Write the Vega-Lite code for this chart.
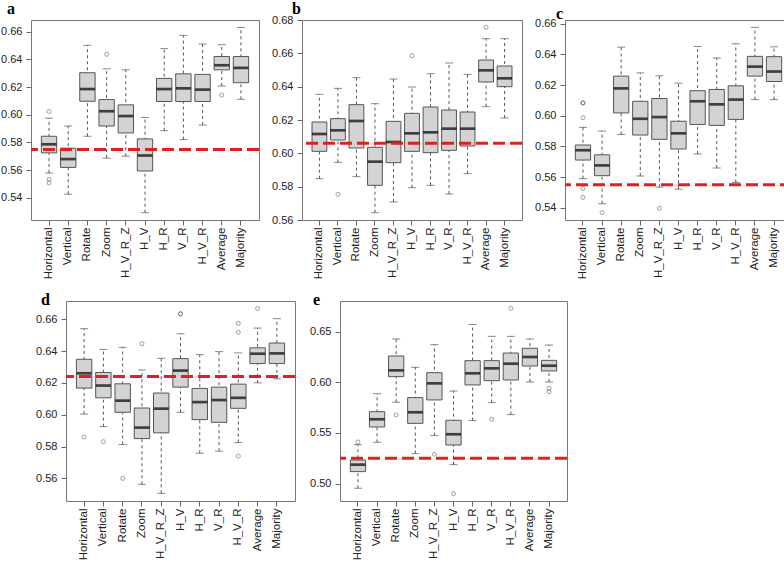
{
"$schema":"https://vega.github.io/schema/vega-lite/v6.json",
"padding":0,
"background":"white",
"config":{
 "view":{"stroke":"#777","strokeWidth":1},
 "axis":{"labelFont":"Liberation Sans","labelFontSize":11,"labelColor":"#222","tickColor":"#666","domain":false,"grid":false,"tickSize":5},
 "axisX":{"labelAngle":-90,"labelPadding":2,"labelFontSize":11.5},
 "axisY":{"labelPadding":4,"labelOverlap":false},
 "title":{"anchor":"start","frame":"group","baseline":"alphabetic","font":"Liberation Serif","fontSize":16,"fontWeight":"bold","color":"#000"}
},
"datasets":{
"boxes":[
{"panel":"a","cat":"Horizontal","lo":0.558,"q1":0.5725,"med":0.5787,"q3":0.5845,"hi":0.5976},
{"panel":"a","cat":"Vertical","lo":0.5426,"q1":0.562,"med":0.568,"q3":0.5759,"hi":0.5919},
{"panel":"a","cat":"Rotate","lo":0.5845,"q1":0.6098,"med":0.6186,"q3":0.6304,"hi":0.6502},
{"panel":"a","cat":"Zoom","lo":0.5687,"q1":0.5919,"med":0.6026,"q3":0.611,"hi":0.6332},
{"panel":"a","cat":"H_V_R_Z","lo":0.5701,"q1":0.5869,"med":0.5991,"q3":0.6072,"hi":0.6325},
{"panel":"a","cat":"H_V","lo":0.5293,"q1":0.5594,"med":0.5706,"q3":0.5826,"hi":0.5981},
{"panel":"a","cat":"H_R","lo":0.5885,"q1":0.6096,"med":0.6186,"q3":0.6263,"hi":0.6478},
{"panel":"a","cat":"V_R","lo":0.5821,"q1":0.6096,"med":0.6191,"q3":0.6296,"hi":0.6574},
{"panel":"a","cat":"H_V_R","lo":0.5926,"q1":0.6096,"med":0.6182,"q3":0.6292,"hi":0.6511},
{"panel":"a","cat":"Average","lo":0.6208,"q1":0.6325,"med":0.6358,"q3":0.6421,"hi":0.6507},
{"panel":"a","cat":"Majority","lo":0.6112,"q1":0.6232,"med":0.6339,"q3":0.6421,"hi":0.6631},
{"panel":"b","cat":"Horizontal","lo":0.5848,"q1":0.6012,"med":0.6116,"q3":0.6188,"hi":0.6354},
{"panel":"b","cat":"Vertical","lo":0.5946,"q1":0.608,"med":0.6138,"q3":0.6208,"hi":0.639},
{"panel":"b","cat":"Rotate","lo":0.586,"q1":0.6032,"med":0.6194,"q3":0.6292,"hi":0.6454},
{"panel":"b","cat":"Zoom","lo":0.5644,"q1":0.5808,"med":0.595,"q3":0.6036,"hi":0.6298},
{"panel":"b","cat":"H_V_R_Z","lo":0.5708,"q1":0.5944,"med":0.6068,"q3":0.6192,"hi":0.6446},
{"panel":"b","cat":"H_V","lo":0.5794,"q1":0.6012,"med":0.612,"q3":0.624,"hi":0.6398},
{"panel":"b","cat":"H_R","lo":0.5808,"q1":0.6004,"med":0.6126,"q3":0.6278,"hi":0.6478},
{"panel":"b","cat":"V_R","lo":0.5756,"q1":0.6018,"med":0.6148,"q3":0.626,"hi":0.6542},
{"panel":"b","cat":"H_V_R","lo":0.5878,"q1":0.6044,"med":0.6148,"q3":0.6248,"hi":0.6474},
{"panel":"b","cat":"Average","lo":0.628,"q1":0.6428,"med":0.6498,"q3":0.656,"hi":0.6688},
{"panel":"b","cat":"Majority","lo":0.6212,"q1":0.64,"med":0.645,"q3":0.6524,"hi":0.6688},
{"panel":"c","cat":"Horizontal","lo":0.559,"q1":0.5711,"med":0.5775,"q3":0.5809,"hi":0.5924},
{"panel":"c","cat":"Vertical","lo":0.5426,"q1":0.5609,"med":0.5676,"q3":0.5745,"hi":0.59},
{"panel":"c","cat":"Rotate","lo":0.5878,"q1":0.6018,"med":0.6178,"q3":0.6258,"hi":0.6447},
{"panel":"c","cat":"Zoom","lo":0.5607,"q1":0.5874,"med":0.598,"q3":0.6094,"hi":0.6279},
{"panel":"c","cat":"H_V_R_Z","lo":0.5534,"q1":0.5846,"med":0.5991,"q3":0.6112,"hi":0.626},
{"panel":"c","cat":"H_V","lo":0.5521,"q1":0.5783,"med":0.5885,"q3":0.5964,"hi":0.6212},
{"panel":"c","cat":"H_R","lo":0.575,"q1":0.5943,"med":0.6094,"q3":0.6163,"hi":0.6451},
{"panel":"c","cat":"V_R","lo":0.5659,"q1":0.5937,"med":0.6074,"q3":0.6171,"hi":0.6376},
{"panel":"c","cat":"H_V_R","lo":0.5565,"q1":0.5976,"med":0.6105,"q3":0.6195,"hi":0.6469},
{"panel":"c","cat":"Average","lo":0.6105,"q1":0.6258,"med":0.632,"q3":0.6387,"hi":0.6576},
{"panel":"c","cat":"Majority","lo":0.6105,"q1":0.6223,"med":0.6288,"q3":0.6385,"hi":0.6449},
{"panel":"d","cat":"Horizontal","lo":0.6004,"q1":0.6167,"med":0.626,"q3":0.6348,"hi":0.654},
{"panel":"d","cat":"Vertical","lo":0.5925,"q1":0.6106,"med":0.6183,"q3":0.6265,"hi":0.641},
{"panel":"d","cat":"Rotate","lo":0.5813,"q1":0.6015,"med":0.6088,"q3":0.6194,"hi":0.6423},
{"panel":"d","cat":"Zoom","lo":0.5563,"q1":0.585,"med":0.5919,"q3":0.6042,"hi":0.6281},
{"panel":"d","cat":"H_V_R_Z","lo":0.5506,"q1":0.5886,"med":0.6038,"q3":0.6136,"hi":0.6354},
{"panel":"d","cat":"H_V","lo":0.6015,"q1":0.6173,"med":0.6277,"q3":0.6352,"hi":0.6508},
{"panel":"d","cat":"H_R","lo":0.5758,"q1":0.5969,"med":0.6079,"q3":0.6165,"hi":0.6377},
{"panel":"d","cat":"V_R","lo":0.5771,"q1":0.5952,"med":0.6092,"q3":0.6173,"hi":0.6396},
{"panel":"d","cat":"H_V_R","lo":0.5825,"q1":0.604,"med":0.6106,"q3":0.6192,"hi":0.6388},
{"panel":"d","cat":"Average","lo":0.62,"q1":0.6321,"med":0.6383,"q3":0.642,"hi":0.6544},
{"panel":"d","cat":"Majority","lo":0.6225,"q1":0.6321,"med":0.6385,"q3":0.645,"hi":0.6603},
{"panel":"e","cat":"Horizontal","lo":0.4954,"q1":0.5118,"med":0.5187,"q3":0.5233,"hi":0.5385},
{"panel":"e","cat":"Vertical","lo":0.5408,"q1":0.5559,"med":0.5635,"q3":0.571,"hi":0.5888},
{"panel":"e","cat":"Rotate","lo":0.5803,"q1":0.6056,"med":0.6118,"q3":0.626,"hi":0.6428},
{"panel":"e","cat":"Zoom","lo":0.5296,"q1":0.5595,"med":0.5704,"q3":0.5849,"hi":0.6148},
{"panel":"e","cat":"H_V_R_Z","lo":0.5474,"q1":0.5826,"med":0.599,"q3":0.6095,"hi":0.6372},
{"panel":"e","cat":"H_V","lo":0.5187,"q1":0.5381,"med":0.5487,"q3":0.5625,"hi":0.5914},
{"panel":"e","cat":"H_R","lo":0.5622,"q1":0.5974,"med":0.6089,"q3":0.6214,"hi":0.6572},
{"panel":"e","cat":"V_R","lo":0.58,"q1":0.6016,"med":0.6138,"q3":0.6214,"hi":0.6454},
{"panel":"e","cat":"H_V_R","lo":0.5681,"q1":0.6023,"med":0.6184,"q3":0.6289,"hi":0.6454},
{"panel":"e","cat":"Average","lo":0.6003,"q1":0.6161,"med":0.625,"q3":0.6336,"hi":0.6428},
{"panel":"e","cat":"Majority","lo":0.6003,"q1":0.6112,"med":0.6164,"q3":0.6217,"hi":0.6368}
],
"outliers":[
{"panel":"a","cat":"Horizontal","v":0.6024},{"panel":"a","cat":"Horizontal","v":0.5534},{"panel":"a","cat":"Horizontal","v":0.5508},
{"panel":"a","cat":"Zoom","v":0.6437},{"panel":"a","cat":"Average","v":0.6143},
{"panel":"b","cat":"Vertical","v":0.5754},{"panel":"b","cat":"H_V","v":0.6586},{"panel":"b","cat":"Average","v":0.6756},
{"panel":"c","cat":"Horizontal","v":0.6085},{"panel":"c","cat":"Horizontal","v":0.6082},{"panel":"c","cat":"Horizontal","v":0.5987},{"panel":"c","cat":"Horizontal","v":0.5525},{"panel":"c","cat":"Horizontal","v":0.5467},
{"panel":"c","cat":"Vertical","v":0.5368},{"panel":"c","cat":"H_V_R_Z","v":0.5396},
{"panel":"d","cat":"Horizontal","v":0.586},{"panel":"d","cat":"Vertical","v":0.5831},{"panel":"d","cat":"Rotate","v":0.56},{"panel":"d","cat":"Zoom","v":0.6446},
{"panel":"d","cat":"H_V","v":0.6635},{"panel":"d","cat":"H_V","v":0.6632},
{"panel":"d","cat":"H_V_R","v":0.6573},{"panel":"d","cat":"H_V_R","v":0.6517},{"panel":"d","cat":"H_V_R","v":0.574},
{"panel":"d","cat":"Average","v":0.6667},
{"panel":"e","cat":"Horizontal","v":0.5411},{"panel":"e","cat":"Rotate","v":0.5678},{"panel":"e","cat":"H_V_R_Z","v":0.5289},
{"panel":"e","cat":"H_V","v":0.4901},{"panel":"e","cat":"V_R","v":0.5635},{"panel":"e","cat":"H_V_R","v":0.673},
{"panel":"e","cat":"Majority","v":0.5941},{"panel":"e","cat":"Majority","v":0.5908}
],
"refs":[
{"panel":"a","v":0.575},{"panel":"b","v":0.606},{"panel":"c","v":0.555},{"panel":"d","v":0.624},{"panel":"e","v":0.525}
]
},
"vconcat":[
{"hconcat":[
 {"width":228,"height":200,
  "title":{"text":"a","dx":-24,"offset":3},
  "layer":[
   {"data":{"name":"boxes"},"transform":[{"filter":"datum.panel==='a'"}],
    "layer":[
     {"mark":{"type":"rule","strokeDash":[3,3],"color":"#555","strokeWidth":1},
      "encoding":{"x":{"field":"cat","type":"nominal","title":null,"scale":{"domain":["Horizontal","Vertical","Rotate","Zoom","H_V_R_Z","H_V","H_R","V_R","H_V_R","Average","Majority"],"paddingInner":0.2,"paddingOuter":0.54}},
       "y":{"field":"lo","type":"quantitative","title":null,"scale":{"domain":[0.524,0.6685],"nice":false,"zero":false},"axis":{"values":[0.54,0.56,0.58,0.6,0.62,0.64,0.66],"format":".2f","labelOverlap":false}},
       "y2":{"field":"hi"}}},
     {"mark":{"type":"tick","size":8,"thickness":1,"color":"#555"},"encoding":{"x":{"field":"cat","type":"nominal","title":null},"y":{"field":"lo","type":"quantitative","title":null,"axis":{"values":[0.54,0.56,0.58,0.6,0.62,0.64,0.66],"format":".2f","labelOverlap":false}}}},
     {"mark":{"type":"tick","size":8,"thickness":1,"color":"#555"},"encoding":{"x":{"field":"cat","type":"nominal","title":null},"y":{"field":"hi","type":"quantitative","title":null,"axis":{"values":[0.54,0.56,0.58,0.6,0.62,0.64,0.66],"format":".2f","labelOverlap":false}}}},
     {"mark":{"type":"bar","fill":"#D3D3D3","stroke":"#555","strokeWidth":1},"encoding":{"x":{"field":"cat","type":"nominal","title":null},"y":{"field":"q1","type":"quantitative","title":null,"axis":{"values":[0.54,0.56,0.58,0.6,0.62,0.64,0.66],"format":".2f","labelOverlap":false}},"y2":{"field":"q3"}}},
     {"mark":{"type":"tick","size":15,"thickness":2.7,"color":"#000"},"encoding":{"x":{"field":"cat","type":"nominal","title":null},"y":{"field":"med","type":"quantitative","title":null,"axis":{"values":[0.54,0.56,0.58,0.6,0.62,0.64,0.66],"format":".2f","labelOverlap":false}}}}
    ]},
   {"data":{"name":"outliers"},"transform":[{"filter":"datum.panel==='a'"}],
    "mark":{"type":"point","shape":"circle","filled":false,"size":16,"color":"#555","strokeWidth":0.8},
    "encoding":{"x":{"field":"cat","type":"nominal","title":null},"y":{"field":"v","type":"quantitative","title":null,"axis":{"values":[0.54,0.56,0.58,0.6,0.62,0.64,0.66],"format":".2f","labelOverlap":false}}}},
   {"data":{"name":"refs"},"transform":[{"filter":"datum.panel==='a'"}],
    "mark":{"type":"rule","color":"#E0201B","strokeWidth":3,"strokeDash":[12,5]},
    "encoding":{"y":{"field":"v","type":"quantitative","title":null,"axis":{"values":[0.54,0.56,0.58,0.6,0.62,0.64,0.66],"format":".2f","labelOverlap":false}}}}
  ]},
 {"width":220,"height":200,
  "title":{"text":"b","dx":-10,"offset":-3},
  "layer":[
   {"data":{"name":"boxes"},"transform":[{"filter":"datum.panel==='b'"}],
    "layer":[
     {"mark":{"type":"rule","strokeDash":[3,3],"color":"#555","strokeWidth":1},
      "encoding":{"x":{"field":"cat","type":"nominal","title":null,"scale":{"domain":["Horizontal","Vertical","Rotate","Zoom","H_V_R_Z","H_V","H_R","V_R","H_V_R","Average","Majority"],"paddingInner":0.2,"paddingOuter":0.54}},
       "y":{"field":"lo","type":"quantitative","title":null,"scale":{"domain":[0.56,0.68],"nice":false,"zero":false},"axis":{"values":[0.56,0.58,0.6,0.62,0.64,0.66,0.68],"format":".2f","labelOverlap":false}},
       "y2":{"field":"hi"}}},
     {"mark":{"type":"tick","size":8,"thickness":1,"color":"#555"},"encoding":{"x":{"field":"cat","type":"nominal","title":null},"y":{"field":"lo","type":"quantitative","title":null,"axis":{"values":[0.56,0.58,0.6,0.62,0.64,0.66,0.68],"format":".2f","labelOverlap":false}}}},
     {"mark":{"type":"tick","size":8,"thickness":1,"color":"#555"},"encoding":{"x":{"field":"cat","type":"nominal","title":null},"y":{"field":"hi","type":"quantitative","title":null,"axis":{"values":[0.56,0.58,0.6,0.62,0.64,0.66,0.68],"format":".2f","labelOverlap":false}}}},
     {"mark":{"type":"bar","fill":"#D3D3D3","stroke":"#555","strokeWidth":1},"encoding":{"x":{"field":"cat","type":"nominal","title":null},"y":{"field":"q1","type":"quantitative","title":null,"axis":{"values":[0.56,0.58,0.6,0.62,0.64,0.66,0.68],"format":".2f","labelOverlap":false}},"y2":{"field":"q3"}}},
     {"mark":{"type":"tick","size":15,"thickness":2.7,"color":"#000"},"encoding":{"x":{"field":"cat","type":"nominal","title":null},"y":{"field":"med","type":"quantitative","title":null,"axis":{"values":[0.56,0.58,0.6,0.62,0.64,0.66,0.68],"format":".2f","labelOverlap":false}}}}
    ]},
   {"data":{"name":"outliers"},"transform":[{"filter":"datum.panel==='b'"}],
    "mark":{"type":"point","shape":"circle","filled":false,"size":16,"color":"#555","strokeWidth":0.8},
    "encoding":{"x":{"field":"cat","type":"nominal","title":null},"y":{"field":"v","type":"quantitative","title":null,"axis":{"values":[0.56,0.58,0.6,0.62,0.64,0.66,0.68],"format":".2f","labelOverlap":false}}}},
   {"data":{"name":"refs"},"transform":[{"filter":"datum.panel==='b'"}],
    "mark":{"type":"rule","color":"#E0201B","strokeWidth":3,"strokeDash":[12,5]},
    "encoding":{"y":{"field":"v","type":"quantitative","title":null,"axis":{"values":[0.56,0.58,0.6,0.62,0.64,0.66,0.68],"format":".2f","labelOverlap":false}}}}
  ]},
 {"width":227,"height":200,
  "title":{"text":"c","dx":-9,"offset":-4},
  "layer":[
   {"data":{"name":"boxes"},"transform":[{"filter":"datum.panel==='c'"}],
    "layer":[
     {"mark":{"type":"rule","strokeDash":[3,3],"color":"#555","strokeWidth":1},
      "encoding":{"x":{"field":"cat","type":"nominal","title":null,"scale":{"domain":["Horizontal","Vertical","Rotate","Zoom","H_V_R_Z","H_V","H_R","V_R","H_V_R","Average","Majority"],"paddingInner":0.2,"paddingOuter":0.54}},
       "y":{"field":"lo","type":"quantitative","title":null,"scale":{"domain":[0.532,0.6624],"nice":false,"zero":false},"axis":{"values":[0.54,0.56,0.58,0.6,0.62,0.64,0.66],"format":".2f","labelOverlap":false}},
       "y2":{"field":"hi"}}},
     {"mark":{"type":"tick","size":8,"thickness":1,"color":"#555"},"encoding":{"x":{"field":"cat","type":"nominal","title":null},"y":{"field":"lo","type":"quantitative","title":null,"axis":{"values":[0.54,0.56,0.58,0.6,0.62,0.64,0.66],"format":".2f","labelOverlap":false}}}},
     {"mark":{"type":"tick","size":8,"thickness":1,"color":"#555"},"encoding":{"x":{"field":"cat","type":"nominal","title":null},"y":{"field":"hi","type":"quantitative","title":null,"axis":{"values":[0.54,0.56,0.58,0.6,0.62,0.64,0.66],"format":".2f","labelOverlap":false}}}},
     {"mark":{"type":"bar","fill":"#D3D3D3","stroke":"#555","strokeWidth":1},"encoding":{"x":{"field":"cat","type":"nominal","title":null},"y":{"field":"q1","type":"quantitative","title":null,"axis":{"values":[0.54,0.56,0.58,0.6,0.62,0.64,0.66],"format":".2f","labelOverlap":false}},"y2":{"field":"q3"}}},
     {"mark":{"type":"tick","size":15,"thickness":2.7,"color":"#000"},"encoding":{"x":{"field":"cat","type":"nominal","title":null},"y":{"field":"med","type":"quantitative","title":null,"axis":{"values":[0.54,0.56,0.58,0.6,0.62,0.64,0.66],"format":".2f","labelOverlap":false}}}}
    ]},
   {"data":{"name":"outliers"},"transform":[{"filter":"datum.panel==='c'"}],
    "mark":{"type":"point","shape":"circle","filled":false,"size":16,"color":"#555","strokeWidth":0.8},
    "encoding":{"x":{"field":"cat","type":"nominal","title":null},"y":{"field":"v","type":"quantitative","title":null,"axis":{"values":[0.54,0.56,0.58,0.6,0.62,0.64,0.66],"format":".2f","labelOverlap":false}}}},
   {"data":{"name":"refs"},"transform":[{"filter":"datum.panel==='c'"}],
    "mark":{"type":"rule","color":"#E0201B","strokeWidth":3,"strokeDash":[12,5]},
    "encoding":{"y":{"field":"v","type":"quantitative","title":null,"axis":{"values":[0.54,0.56,0.58,0.6,0.62,0.64,0.66],"format":".2f","labelOverlap":false}}}}
  ]}
 ],"spacing":10},
{"hconcat":[
 {"width":4,"height":200,"view":{"stroke":null},
  "data":{"name":"refs"},"transform":[{"filter":"false"}],
  "mark":"point","encoding":{}},
 {"hconcat":[
 {"width":229,"height":200,
  "title":{"text":"d","dx":-25,"offset":-7},
  "layer":[
   {"data":{"name":"boxes"},"transform":[{"filter":"datum.panel==='d'"}],
    "layer":[
     {"mark":{"type":"rule","strokeDash":[3,3],"color":"#555","strokeWidth":1},
      "encoding":{"x":{"field":"cat","type":"nominal","title":null,"scale":{"domain":["Horizontal","Vertical","Rotate","Zoom","H_V_R_Z","H_V","H_R","V_R","H_V_R","Average","Majority"],"paddingInner":0.2,"paddingOuter":0.54}},
       "y":{"field":"lo","type":"quantitative","title":null,"scale":{"domain":[0.5458,0.6714],"nice":false,"zero":false},"axis":{"values":[0.56,0.58,0.6,0.62,0.64,0.66],"format":".2f","labelOverlap":false}},
       "y2":{"field":"hi"}}},
     {"mark":{"type":"tick","size":8,"thickness":1,"color":"#555"},"encoding":{"x":{"field":"cat","type":"nominal","title":null},"y":{"field":"lo","type":"quantitative","title":null,"axis":{"values":[0.56,0.58,0.6,0.62,0.64,0.66],"format":".2f","labelOverlap":false}}}},
     {"mark":{"type":"tick","size":8,"thickness":1,"color":"#555"},"encoding":{"x":{"field":"cat","type":"nominal","title":null},"y":{"field":"hi","type":"quantitative","title":null,"axis":{"values":[0.56,0.58,0.6,0.62,0.64,0.66],"format":".2f","labelOverlap":false}}}},
     {"mark":{"type":"bar","fill":"#D3D3D3","stroke":"#555","strokeWidth":1},"encoding":{"x":{"field":"cat","type":"nominal","title":null},"y":{"field":"q1","type":"quantitative","title":null,"axis":{"values":[0.56,0.58,0.6,0.62,0.64,0.66],"format":".2f","labelOverlap":false}},"y2":{"field":"q3"}}},
     {"mark":{"type":"tick","size":15,"thickness":2.7,"color":"#000"},"encoding":{"x":{"field":"cat","type":"nominal","title":null},"y":{"field":"med","type":"quantitative","title":null,"axis":{"values":[0.56,0.58,0.6,0.62,0.64,0.66],"format":".2f","labelOverlap":false}}}}
    ]},
   {"data":{"name":"outliers"},"transform":[{"filter":"datum.panel==='d'"}],
    "mark":{"type":"point","shape":"circle","filled":false,"size":16,"color":"#555","strokeWidth":0.8},
    "encoding":{"x":{"field":"cat","type":"nominal","title":null},"y":{"field":"v","type":"quantitative","title":null,"axis":{"values":[0.56,0.58,0.6,0.62,0.64,0.66],"format":".2f","labelOverlap":false}}}},
   {"data":{"name":"refs"},"transform":[{"filter":"datum.panel==='d'"}],
    "mark":{"type":"rule","color":"#E0201B","strokeWidth":3,"strokeDash":[12,5]},
    "encoding":{"y":{"field":"v","type":"quantitative","title":null,"axis":{"values":[0.56,0.58,0.6,0.62,0.64,0.66],"format":".2f","labelOverlap":false}}}}
  ]},
 {"width":227,"height":200,
  "title":{"text":"e","dx":-27,"offset":-7},
  "layer":[
   {"data":{"name":"boxes"},"transform":[{"filter":"datum.panel==='e'"}],
    "layer":[
     {"mark":{"type":"rule","strokeDash":[3,3],"color":"#555","strokeWidth":1},
      "encoding":{"x":{"field":"cat","type":"nominal","title":null,"scale":{"domain":["Horizontal","Vertical","Rotate","Zoom","H_V_R_Z","H_V","H_R","V_R","H_V_R","Average","Majority"],"paddingInner":0.2,"paddingOuter":0.54}},
       "y":{"field":"lo","type":"quantitative","title":null,"scale":{"domain":[0.4828,0.6803],"nice":false,"zero":false},"axis":{"values":[0.5,0.55,0.6,0.65],"format":".2f","labelOverlap":false}},
       "y2":{"field":"hi"}}},
     {"mark":{"type":"tick","size":8,"thickness":1,"color":"#555"},"encoding":{"x":{"field":"cat","type":"nominal","title":null},"y":{"field":"lo","type":"quantitative","title":null,"axis":{"values":[0.5,0.55,0.6,0.65],"format":".2f","labelOverlap":false}}}},
     {"mark":{"type":"tick","size":8,"thickness":1,"color":"#555"},"encoding":{"x":{"field":"cat","type":"nominal","title":null},"y":{"field":"hi","type":"quantitative","title":null,"axis":{"values":[0.5,0.55,0.6,0.65],"format":".2f","labelOverlap":false}}}},
     {"mark":{"type":"bar","fill":"#D3D3D3","stroke":"#555","strokeWidth":1},"encoding":{"x":{"field":"cat","type":"nominal","title":null},"y":{"field":"q1","type":"quantitative","title":null,"axis":{"values":[0.5,0.55,0.6,0.65],"format":".2f","labelOverlap":false}},"y2":{"field":"q3"}}},
     {"mark":{"type":"tick","size":15,"thickness":2.7,"color":"#000"},"encoding":{"x":{"field":"cat","type":"nominal","title":null},"y":{"field":"med","type":"quantitative","title":null,"axis":{"values":[0.5,0.55,0.6,0.65],"format":".2f","labelOverlap":false}}}}
    ]},
   {"data":{"name":"outliers"},"transform":[{"filter":"datum.panel==='e'"}],
    "mark":{"type":"point","shape":"circle","filled":false,"size":16,"color":"#555","strokeWidth":0.8},
    "encoding":{"x":{"field":"cat","type":"nominal","title":null},"y":{"field":"v","type":"quantitative","title":null,"axis":{"values":[0.5,0.55,0.6,0.65],"format":".2f","labelOverlap":false}}}},
   {"data":{"name":"refs"},"transform":[{"filter":"datum.panel==='e'"}],
    "mark":{"type":"rule","color":"#E0201B","strokeWidth":3,"strokeDash":[12,5]},
    "encoding":{"y":{"field":"v","type":"quantitative","title":null,"axis":{"values":[0.5,0.55,0.6,0.65],"format":".2f","labelOverlap":false}}}}
  ]}
 ],"spacing":12}
 ],"spacing":0}
],
"spacing":11
}
